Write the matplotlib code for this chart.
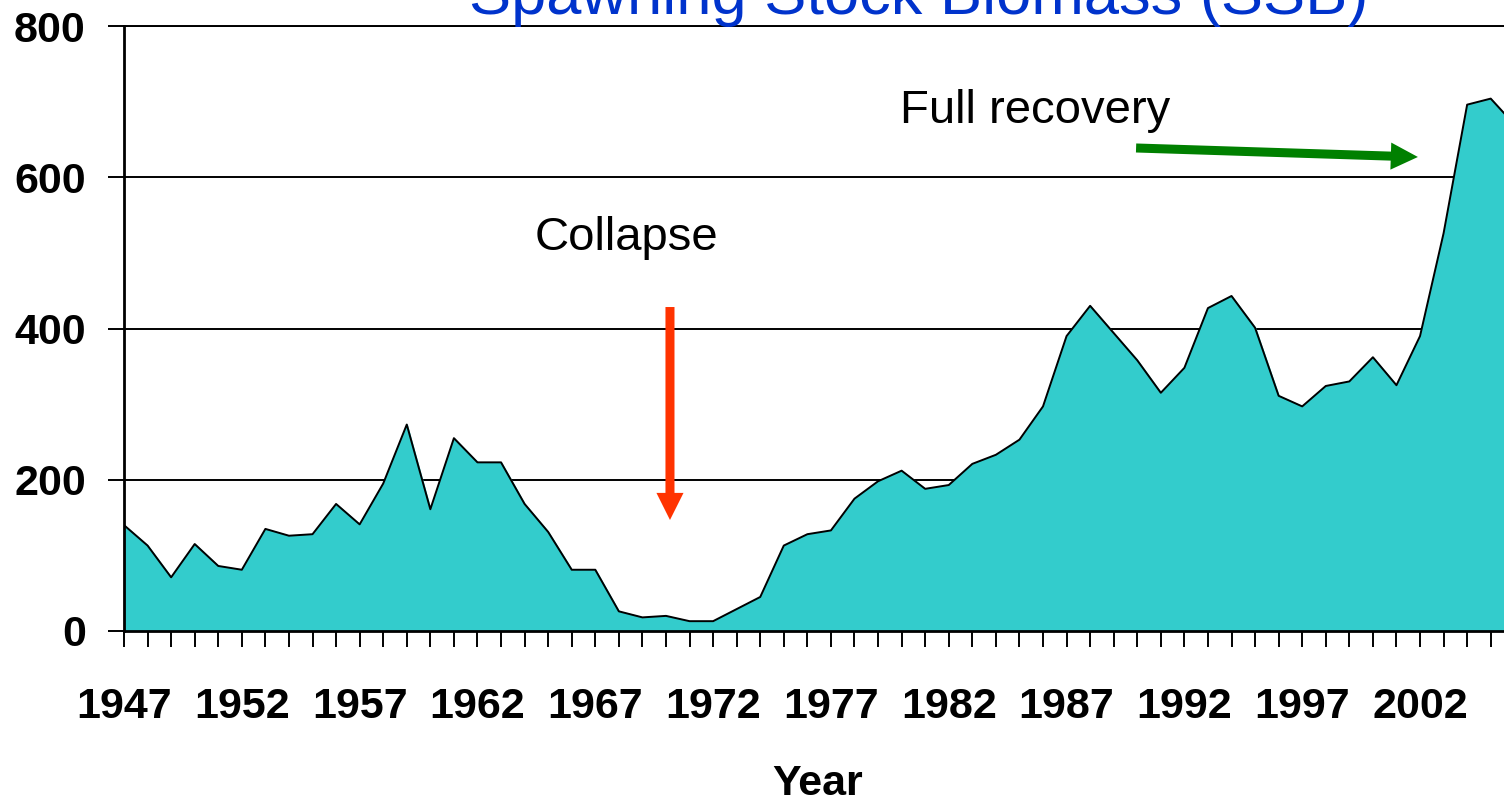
import numpy as np
import matplotlib
matplotlib.use("Agg")
import matplotlib.pyplot as plt
from matplotlib.patches import FancyArrowPatch

plt.rcParams["font.family"] = ["Liberation Sans", "DejaVu Sans"]

# ----------------- datos -----------------
years = np.arange(1947, 2007)
ssb = [140, 113, 71, 115, 86, 81, 135, 126, 128, 168,
       141, 195, 273, 161, 255, 223, 223, 168, 131, 81,
       81, 26, 18, 20, 13, 13, 29, 45, 113, 128,
       133, 175, 198, 212, 188, 193, 221, 233, 253, 297,
       390, 430, 394, 358, 315, 348, 427, 443, 401, 311,
       297, 324, 330, 362, 325, 390, 526, 696, 704, 670]
y_ticks = [0, 200, 400, 600, 800]
x_labels = [str(y) if (y - 1947) % 5 == 0 else "" for y in years]

title = "Spawning Stock Biomass (SSB)"
xlabel = "Year"

# ----------------- figura -----------------
fig = plt.figure(figsize=(15.04, 8), dpi=100)
ax = fig.add_axes([124 / 1504, 1 - 631 / 800, 1 - 124 / 1504, (631 - 26) / 800])

ax.fill_between(years, ssb, 0, color="#33CCCC", zorder=2)
ax.plot(years, ssb, color="black", lw=1.4, zorder=3)

ax.set_yticks(y_ticks)
ax.set_yticklabels([str(v) for v in y_ticks], fontsize=31, fontweight="bold")
ax.set_xticks(years)
ax.set_xticklabels(x_labels, fontsize=31, fontweight="bold")
# límites después de set_xticks (que amplía la vista)
ax.set_xlim(1947, 1947 + 1380 / 23.564)
ax.set_ylim(0, 800)
ax.tick_params(axis="y", direction="out", length=11.5, width=1.4, pad=16)
ax.tick_params(axis="x", direction="out", length=11.5, width=1.4, pad=29)

ax.grid(axis="y", color="black", lw=1.4, zorder=1)
ax.set_axisbelow(True)
for s in ["top", "right"]:
    ax.spines[s].set_visible(False)
for s in ["left", "bottom"]:
    ax.spines[s].set_linewidth(2.0)
    ax.spines[s].set_zorder(4)

# el 800 se dibuja como línea de rejilla
ax.axhline(800, color="black", lw=1.4, clip_on=False, zorder=1)

fig.text(818 / 1504, 1 - 795 / 800, xlabel, fontsize=31, fontweight="bold",
         ha="center", va="baseline")
fig.text(919 / 1504, 1 - 14 / 800, title, fontsize=45.5, color="#0033CC",
         ha="center", va="baseline")

# anotaciones
ax.text(1964.44, 503.8, "Collapse", fontsize=34, va="baseline", ha="left")
ax.text(1979.93, 671.7, "Full recovery", fontsize=34, va="baseline", ha="left")

style = "simple,head_length=19.5,head_width=19.5,tail_width=6.5"
red = FancyArrowPatch((1970.17, 428.4), (1970.17, 146.8), arrowstyle=style,
                      mutation_scale=1, color="#FF3300", lw=0,
                      shrinkA=0, shrinkB=0, zorder=5)
green = FancyArrowPatch((1989.95, 638.7), (2001.91, 626.8), arrowstyle=style,
                        mutation_scale=1, color="#008000", lw=0,
                        shrinkA=0, shrinkB=0, zorder=5)
ax.add_patch(red)
ax.add_patch(green)

fig.savefig("out.png", dpi=100)
